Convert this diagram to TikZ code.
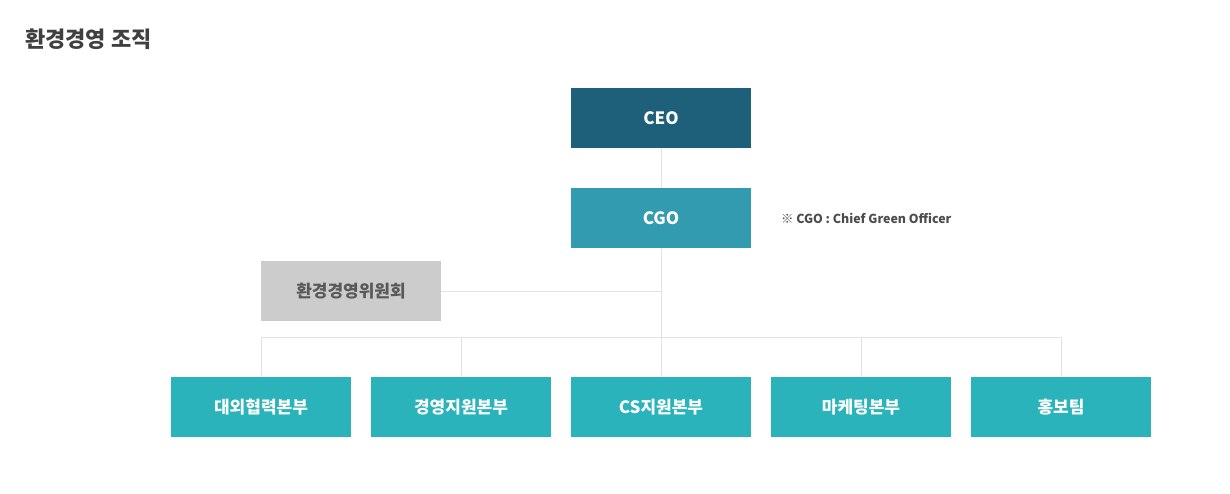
\documentclass[tikz,border=0pt]{standalone}
\usepackage{fontspec}
\setmainfont{Noto Sans CJK KR}
\usetikzlibrary{positioning,calc}
\definecolor{ceoblue}{HTML}{1E6079}
\definecolor{cgoblue}{HTML}{339BB0}
\definecolor{teamcyan}{HTML}{2AB3BA}
\definecolor{boardgray}{HTML}{CCCCCC}
\definecolor{linegray}{HTML}{E3E3E3}
\begin{document}
\begin{tikzpicture}[
        x=0.5pt,y=-0.5pt,
        font=\fontsize{8.5}{10}\selectfont\bfseries,
        box/.style={rectangle,minimum width=90pt,minimum height=30pt,inner sep=0pt,text=white},
        link/.style={draw=linegray,line width=0.5pt}
    ]
        \useasboundingbox (0,0) rectangle (1230,493);
        \node[anchor=west,font=\fontsize{11}{12}\selectfont\bfseries,text=black!75] (title) at (18,39) {환경경영 조직};

        \node[box,fill=ceoblue] (ceo) at (661,118) {CEO};
        \node[box,fill=cgoblue] (cgo) at (661,218) {CGO};
        \node[anchor=west,font=\fontsize{6.2}{8}\selectfont\bfseries,text=black!70] (note) at (774,218) {※ CGO : Chief Green Officer};
        \node[box,fill=boardgray,text=black!65] (board) at (351,291) {환경경영위원회};

        \node[box,fill=teamcyan] (hq1) at (261,407) {대외협력본부};
        \node[box,fill=teamcyan] (hq2) at (461,407) {경영지원본부};
        \node[box,fill=teamcyan] (hq3) at (661,407) {CS지원본부};
        \node[box,fill=teamcyan] (hq4) at (861,407) {마케팅본부};
        \node[box,fill=teamcyan] (hq5) at (1061,407) {홍보팀};

        \coordinate (split) at (661,337);
        \coordinate (joint) at (661,291);
        \draw[link] (ceo) -- (cgo);
        \draw[link] (cgo) -- (hq3);
        \draw[link] (board) -- (joint);
        \draw[link] (hq1.north) -- (hq1.north |- split) -- (hq5.north |- split) -- (hq5.north);
        \foreach \n in {hq2,hq4}
            \draw[link] (\n.north) -- (\n.north |- split);
    \end{tikzpicture}
\end{document}
